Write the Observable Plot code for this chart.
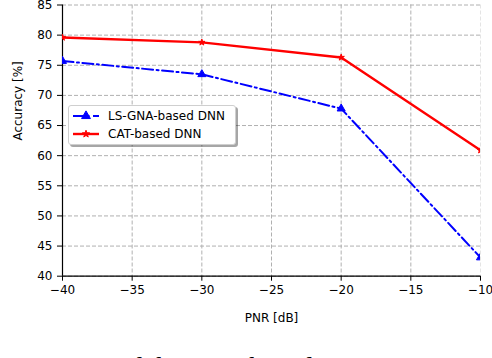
<!DOCTYPE html>
<html>
<head>
<meta charset="utf-8">
<script src="https://cdn.jsdelivr.net/npm/d3@7"></script>
<script src="https://cdn.jsdelivr.net/npm/@observablehq/plot@0.6"></script>
<style>
  html, body { margin: 0; padding: 0; background: #fff; overflow: hidden; }
  #wrap { position: relative; width: 492px; height: 358px; overflow: hidden; font-family: "DejaVu Sans", sans-serif; }
  #legend { position: absolute; left: 68px; top: 105px; width: 166px; height: 38px; background: #fff;
    border: 1px solid #cfcfcf; border-radius: 3px; box-shadow: 2px 2px 0 rgba(0,0,0,0.35); font-size: 12px; color: #000; }
  .item { position: absolute; left: 3px; height: 14px; display: flex; align-items: center; white-space: nowrap; }
  .item svg { margin-right: 8px; }
  #caption { position: absolute; left: 4px; top: 353px; font-family: "Liberation Serif", "Times New Roman", serif;
    font-size: 28px; line-height: 28px; white-space: nowrap; color: #000; }
</style>
</head>
<body>
<div id="wrap"></div>
<script>
const pnr = [-40, -30, -20, -10];
const lsgna = [75.7, 73.5, 67.8, 43.1];
const cat = [79.6, 78.8, 76.3, 60.9];
const seriesNames = ["LS-GNA-based DNN", "CAT-based DNN"];
const xTicks = [-40, -35, -30, -25, -20, -15, -10];
const yTicks = [40, 45, 50, 55, 60, 65, 70, 75, 80, 85];
const xLabel = "PNR [dB]";
const yLabel = "Accuracy [%]";
const captionText = "Accuracy of the CAT-based DNN";

const blue = "#0000ff", red = "#ff0000";
const dashDot = "11,3.5,2,3.5";
const fmt = d => d < 0 ? "\u2212" + (-d) : String(d);

const rowsA = pnr.map((x, i) => ({x, y: lsgna[i]}));
const rowsB = pnr.map((x, i) => ({x, y: cat[i]}));

const chart = Plot.plot({
  width: 492,
  height: 330,
  marginLeft: 62,
  marginRight: 12,
  marginTop: 4.5,
  marginBottom: 54.3,
  style: {fontFamily: "DejaVu Sans, sans-serif", fontSize: "12px", color: "#000", background: "#fff", overflow: "visible"},
  x: {domain: [-40, -10], ticks: xTicks},
  y: {domain: [40, 85], ticks: yTicks},
  marks: [
    Plot.gridX(xTicks.slice(0, -1), {stroke: "#b0b0b0", strokeOpacity: 1, strokeWidth: 1, strokeDasharray: "4,2"}),
    Plot.gridX(xTicks.slice(-1), {stroke: "#e4e4e4", strokeOpacity: 1, strokeWidth: 1, strokeDasharray: "4,2"}),
    Plot.gridY(yTicks, {stroke: "#b0b0b0", strokeOpacity: 1, strokeWidth: 1, strokeDasharray: "4,2"}),
    Plot.axisX(xTicks, {tickSize: 5, tickPadding: 4, tickFormat: fmt, fontSize: 12, label: null}),
    Plot.axisY(yTicks, {tickSize: 5, tickPadding: 5, tickFormat: fmt, fontSize: 12, label: null}),
    Plot.ruleX([-40], {stroke: "#000", strokeWidth: 1.2}),
    Plot.ruleY([40], {stroke: "#000", strokeWidth: 1.2}),
    Plot.text([xLabel], {frameAnchor: "bottom", dy: 42, text: d => d, fontSize: 12, lineAnchor: "middle"}),
    Plot.text([yLabel], {frameAnchor: "left", dx: -44, rotate: -90, text: d => d, fontSize: 12, lineAnchor: "middle"}),
    Plot.line(rowsA, {x: "x", y: "y", stroke: blue, strokeWidth: 2, strokeDasharray: dashDot, clip: true}),
    Plot.dot(rowsA, {x: "x", y: "y", symbol: "triangle", r: 3, fill: blue, stroke: blue, strokeWidth: 1, clip: true}),
    Plot.line(rowsB, {x: "x", y: "y", stroke: red, strokeWidth: 2.4, clip: true}),
    Plot.dot(rowsB, {x: "x", y: "y", symbol: "star", r: 2, fill: red, stroke: red, strokeWidth: 1, clip: true})
  ]
});
chart.style.position = "absolute";
chart.style.left = "0px";
chart.style.top = "0px";
const wrap = document.getElementById("wrap");
wrap.appendChild(chart);

// legend
const legend = document.createElement("div");
legend.id = "legend";
const entries = [
  {name: seriesNames[0], color: blue, dash: dashDot, sym: d3.symbolTriangle, size: 34, top: 3, w: 2},
  {name: seriesNames[1], color: red, dash: null, sym: d3.symbolStar, size: 16, top: 21, w: 2.4}
];
for (const e of entries) {
  const item = document.createElement("div");
  item.className = "item";
  item.style.top = e.top + "px";
  const ns = "http://www.w3.org/2000/svg";
  const s = document.createElementNS(ns, "svg");
  s.setAttribute("width", 28); s.setAttribute("height", 14);
  const ln = document.createElementNS(ns, "line");
  ln.setAttribute("x1", 1); ln.setAttribute("x2", 27); ln.setAttribute("y1", 7); ln.setAttribute("y2", 7);
  ln.setAttribute("stroke", e.color); ln.setAttribute("stroke-width", e.w);
  if (e.dash) ln.setAttribute("stroke-dasharray", e.dash);
  s.appendChild(ln);
  const p = document.createElementNS(ns, "path");
  p.setAttribute("d", d3.symbol(e.sym, e.size)());
  p.setAttribute("transform", "translate(14,7)");
  p.setAttribute("fill", e.color);
  p.setAttribute("stroke", e.color);
  s.appendChild(p);
  item.appendChild(s);
  const t = document.createElement("span");
  t.textContent = e.name;
  item.appendChild(t);
  legend.appendChild(item);
}
wrap.appendChild(legend);

const cap = document.createElement("div");
cap.id = "caption";
cap.textContent = captionText;
wrap.appendChild(cap);
</script>
</body>
</html>
